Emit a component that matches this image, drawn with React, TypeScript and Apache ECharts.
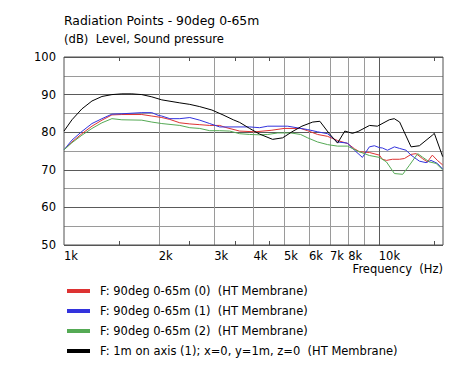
import React, { useEffect, useRef } from 'react';
import * as echarts from 'echarts';

const FONT = '"DejaVu Sans", Verdana, sans-serif';

const titleText = 'Radiation Points - 90deg 0-65m';
const subTitleText = '(dB) \u00a0Level, Sound pressure';
const xAxisName = 'Frequency \u00a0(Hz)';

const seriesNames = [
  'F: 90deg 0-65m (0) \u00a0(HT Membrane)',
  'F: 90deg 0-65m (1) \u00a0(HT Membrane)',
  'F: 90deg 0-65m (2) \u00a0(HT Membrane)',
  'F: 1m on axis (1); x=0, y=1m, z=0 \u00a0(HT Membrane)',
];
const seriesColors = ['#dd3333', '#3333dd', '#55aa55', '#000000'];

const xLabelFreqs = [1000, 2000, 3000, 4000, 5000, 6000, 7000, 8000, 10000];
const xGridFreqs = [2000, 3000, 4000, 5000, 6000, 7000, 8000, 9000, 10000];
const xMinorFreqs = [1500, 2500, 3500, 4500, 15000];

const redData: [number, number][] = [
  [1000, 75.3], [1060, 77.4], [1140, 79.6], [1227, 81.6], [1320, 83.2], [1420, 84.6], [1527, 84.7],
  [1767, 84.7], [1901, 84.3], [2045, 83.9], [2169, 83.4], [2333, 82.5], [2510, 82.2], [2700, 82.0],
  [2904, 81.8], [3124, 81.8], [3250, 81.3], [3615, 80.3], [4050, 80.1], [4550, 80.5], [5000, 81.0],
  [5646, 81.0], [5943, 80.4], [6392, 79.4], [6876, 78.9], [7396, 77.8], [7955, 77.0], [8371, 75.6],
  [8681, 74.8], [9337, 74.6], [10046, 73.9], [10273, 72.8], [10578, 72.5], [11053, 72.8],
  [11631, 72.8], [12064, 73.0], [12667, 74.1], [13140, 74.3], [13760, 73.0], [14271, 72.1],
  [14800, 73.9], [15355, 72.5], [15960, 71.3],
];

const blueData: [number, number][] = [
  [1000, 75.3], [1060, 77.9], [1140, 80.2], [1227, 82.3], [1320, 83.6], [1420, 84.8], [1527, 84.9],
  [1767, 85.2], [1901, 85.2], [1990, 84.5], [2045, 84.3], [2169, 83.6], [2333, 83.6], [2510, 83.9],
  [2700, 83.2], [2904, 82.3], [3124, 81.4], [3889, 81.4], [4183, 81.2], [4441, 81.6], [5137, 81.6],
  [5943, 80.7], [6392, 80.1], [6876, 79.6], [7396, 77.4], [7955, 77.1], [8371, 75.2], [8873, 73.3],
  [9337, 76.1], [9685, 76.4], [10046, 75.9], [10273, 75.8], [10656, 75.2], [11215, 76.1],
  [11631, 75.7], [12215, 75.2], [12667, 73.9], [13461, 72.3], [14135, 71.9], [14660, 72.5],
  [15355, 71.7], [15960, 70.2],
];

const greenData: [number, number][] = [
  [1000, 75.3], [1060, 77.2], [1140, 79.2], [1227, 81.0], [1320, 82.5], [1420, 83.6], [1527, 83.3],
  [1767, 83.2], [1901, 82.7], [2045, 82.3], [2333, 81.8], [2510, 81.2], [2700, 81.0], [2904, 80.4],
  [3124, 80.4], [3361, 80.3], [3615, 79.6], [3889, 79.4], [4183, 79.3], [4441, 79.4], [4777, 79.8],
  [5249, 79.8], [5646, 79.4], [5943, 78.5], [6392, 77.4], [6876, 76.7], [7396, 76.3], [7955, 76.3],
  [8557, 75.0], [9337, 73.8], [10046, 73.3], [10578, 72.1], [11215, 69.0], [11917, 68.8],
  [12511, 71.2], [13296, 74.3], [13760, 73.4], [14480, 72.1], [15208, 71.7], [15960, 70.0],
];

const blackData: [number, number][] = [
  [1000, 80.3], [1060, 83.3], [1140, 86.2], [1227, 88.3], [1320, 89.5], [1420, 90.0], [1527, 90.2],
  [1643, 90.2], [1767, 90.0], [1901, 89.4], [2045, 88.6], [2333, 87.8], [2510, 87.4], [2700, 86.8],
  [2950, 85.9], [3200, 84.6], [3450, 83.3], [3615, 82.6], [3889, 81.0], [4183, 79.5], [4600, 78.1],
  [4950, 78.5], [5300, 80.1], [5700, 81.6], [6170, 82.7], [6500, 82.9], [6950, 79.7], [7400, 77.1],
  [7800, 80.3], [8250, 79.7], [8600, 80.2], [9350, 81.8], [9900, 81.6], [10800, 83.3], [11200, 83.6],
  [11650, 82.7], [12667, 76.1], [13461, 76.4], [14800, 79.2], [15016, 79.7], [15960, 73.5],
];

const allData = [redData, blueData, greenData, blackData];

const MAJOR = '#5a5a5a';
const MINOR = '#9a9a9a';

export default function App() {
  const ref = useRef<HTMLDivElement>(null);
  useEffect(() => {
    const chart = echarts.init(ref.current!, null, { renderer: 'svg' });
    const logAxisBase = {
      type: 'log',
      logBase: 10,
      min: 1000,
      max: 16000,
      gridIndex: 0,
    };
    chart.setOption({
      animation: false,
      backgroundColor: '#ffffff',
      grid: {
        left: 64,
        top: 57,
        width: 379,
        height: 188,
        show: true,
        borderColor: '#505050',
        borderWidth: 1,
        backgroundColor: 'transparent',
        z: 3,
      },
      xAxis: [
        {
          ...logAxisBase,
          position: 'bottom',
          axisLine: { show: false },
          axisTick: { show: false, customValues: xGridFreqs },
          axisLabel: {
            customValues: xLabelFreqs,
            formatter: (v: number) => Math.round(v / 1000) + 'k',
            align: 'left',
            margin: 5,
            fontFamily: FONT,
            fontSize: 11.5,
            color: '#000',
            showMinLabel: true,
            showMaxLabel: true,
          },
          splitLine: {
            show: true,
            lineStyle: {
              color: [MINOR, MINOR, MINOR, MINOR, MINOR, MINOR, MINOR, MINOR, MAJOR],
              width: 1,
            },
          },
        },
        {
          ...logAxisBase,
          position: 'bottom',
          axisLine: { show: false },
          axisTick: {
            show: true,
            inside: true,
            length: 4,
            customValues: xMinorFreqs,
            lineStyle: { color: '#505050' },
          },
          axisLabel: { show: false },
          splitLine: { show: false },
        },
        {
          ...logAxisBase,
          position: 'top',
          axisLine: { show: false },
          axisTick: {
            show: true,
            inside: true,
            length: 4,
            customValues: xMinorFreqs,
            lineStyle: { color: '#505050' },
          },
          axisLabel: { show: false },
          splitLine: { show: false },
        },
      ],
      yAxis: {
        type: 'value',
        min: 50,
        max: 100,
        interval: 5,
        axisLine: { show: false },
        axisTick: { show: false },
        axisLabel: {
          formatter: (v: number) => (v % 10 === 0 ? String(v) : ''),
          margin: 8,
          fontFamily: FONT,
          fontSize: 11.5,
          color: '#000',
        },
        splitLine: { show: true, lineStyle: { color: [MAJOR, MINOR], width: 1 } },
      },
      legend: {
        orient: 'vertical',
        left: 67,
        top: 281,
        padding: 0,
        itemWidth: 23,
        itemHeight: 4,
        itemGap: 0,
        icon: 'rect',
        selectedMode: false,
        data: seriesNames,
        textStyle: {
          fontFamily: FONT,
          fontSize: 11.5,
          color: '#000',
          lineHeight: 20,
          padding: [0, 0, 0, 5],
        },
      },
      graphic: [
        {
          type: 'text',
          left: 64,
          top: 14,
          style: { text: titleText, fontFamily: FONT, fontSize: 12.4, fill: '#000' },
        },
        {
          type: 'text',
          left: 64,
          top: 33,
          style: { text: subTitleText, fontFamily: FONT, fontSize: 11.6, fill: '#000' },
        },
        {
          type: 'text',
          x: 443,
          y: 269,
          style: {
            text: xAxisName,
            fontFamily: FONT,
            fontSize: 11.5,
            fill: '#000',
            align: 'right',
            verticalAlign: 'middle',
          },
        },
      ],
      series: allData.map((d, i) => ({
        name: seriesNames[i],
        type: 'line',
        xAxisIndex: 0,
        yAxisIndex: 0,
        data: d,
        showSymbol: false,
        symbol: 'none',
        color: seriesColors[i],
        lineStyle: { width: 1, color: seriesColors[i] },
        z: i === 3 ? 4 : 3,
      })),
    });
    return () => chart.dispose();
  }, []);
  return (
    <div
      ref={ref}
      style={{ position: 'absolute', left: 0, top: 0, width: 466, height: 381, background: '#fff' }}
    />
  );
}
